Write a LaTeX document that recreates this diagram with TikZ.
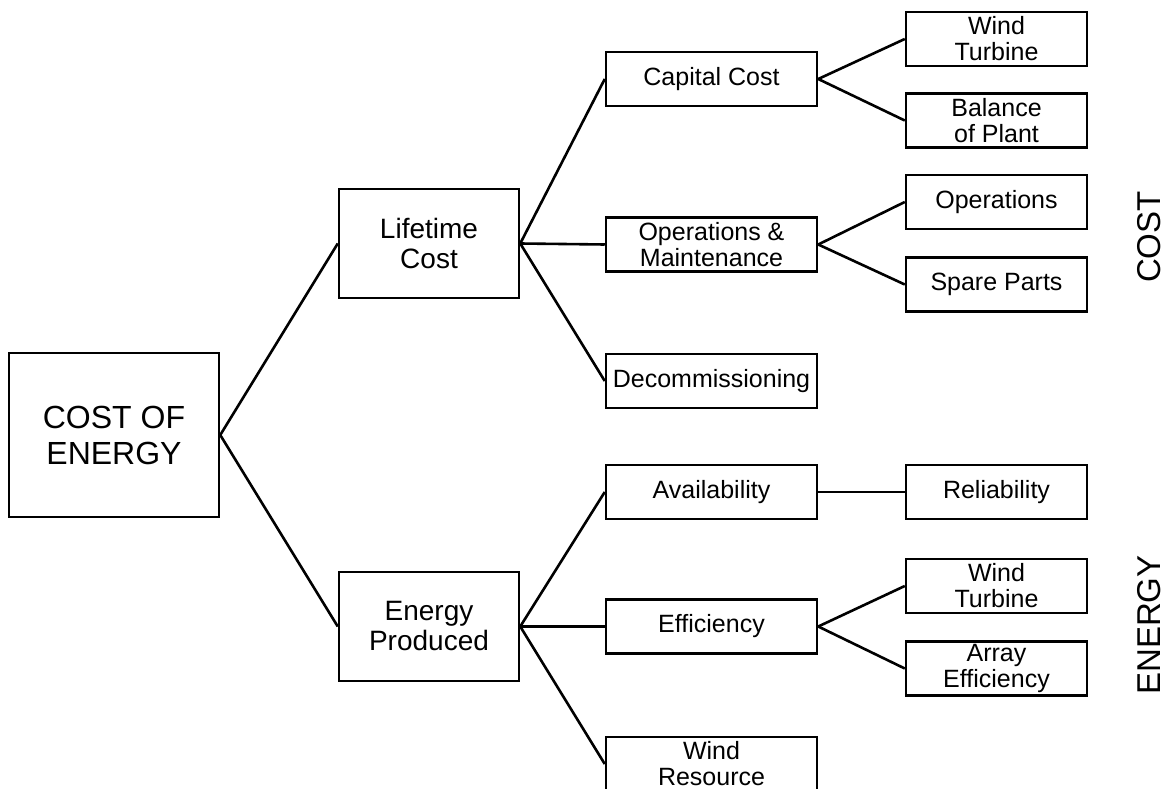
\documentclass[tikz,border=0pt]{standalone}
\usepackage{fontspec}
\setmainfont{Liberation Sans}
\begin{document}
\begin{tikzpicture}[x=1pt,y=1pt,
  box/.style={draw=black,line width=2.5pt,fill=white,align=center,inner sep=0pt,text=black},
  rootbox/.style={box,minimum width=210pt,minimum height=164pt,font=\fontsize{32}{36}\selectfont},
  midbox/.style={box,minimum width=180pt,minimum height=109pt,font=\fontsize{28}{30}\selectfont},
  colbox/.style={box,minimum width=211pt,minimum height=54pt,font=\fontsize{25}{26}\selectfont},
  leafbox/.style={box,minimum width=181pt,minimum height=54pt,font=\fontsize{25}{26}\selectfont},
  link/.style={draw=black,line width=2.6pt},
  sidelabel/.style={rotate=90,font=\fontsize{33}{36}\selectfont,inner sep=0pt}]
\clip (0,0) rectangle (1171,-789);
\fill[white] (0,0) rectangle (1171,-789);
% root
\node[rootbox] (root) at (114,-435) {COST OF\\ENERGY};
% level 1
\node[midbox] (life) at (429,-243.5) {Lifetime\\Cost};
\node[midbox] (energy) at (429,-626.5) {Energy\\Produced};
% level 2
\node[colbox] (capital) at (711.5,-79) {Capital Cost};
\node[colbox] (om) at (711.5,-244.5) {Operations \&\\Maintenance};
\node[colbox] (decom) at (711.5,-381) {Decommissioning};
\node[colbox] (avail) at (711.5,-492) {Availability};
\node[colbox] (eff) at (711.5,-626.5) {Efficiency};
\node[colbox] (wres) at (711.5,-764) {Wind\\Resource};
% level 3
\node[leafbox] (wt1) at (996.5,-39) {Wind\\Turbine};
\node[leafbox] (bop) at (996.5,-120.5) {Balance\\of Plant};
\node[leafbox] (ops) at (996.5,-202) {Operations};
\node[leafbox] (spare) at (996.5,-284.5) {Spare Parts};
\node[leafbox] (rel) at (996.5,-492) {Reliability};
\node[leafbox] (wt2) at (996.5,-586) {Wind\\Turbine};
\node[leafbox] (arr) at (996.5,-668.5) {Array\\Efficiency};
% side labels
\node[sidelabel] (costlbl) at (1149,-237) {COST};
\node[sidelabel] (energylbl) at (1149,-625) {ENERGY};
% connectors
\draw[link] (root.east) -- (life.west);
\draw[link] (root.east) -- (energy.west);
\draw[link] (life.east) -- (capital.west);
\draw[link] (life.east) -- (om.west);
\draw[link] (life.east) -- (decom.west);
\draw[link] (energy.east) -- (avail.west);
\draw[link] (energy.east) -- (eff.west);
\draw[link] (energy.east) -- (wres.west);
\draw[link] (capital.east) -- (wt1.west);
\draw[link] (capital.east) -- (bop.west);
\draw[link] (om.east) -- (ops.west);
\draw[link] (om.east) -- (spare.west);
\draw[link] (avail.east) -- (rel.west);
\draw[link] (eff.east) -- (wt2.west);
\draw[link] (eff.east) -- (arr.west);
\end{tikzpicture}
\end{document}
